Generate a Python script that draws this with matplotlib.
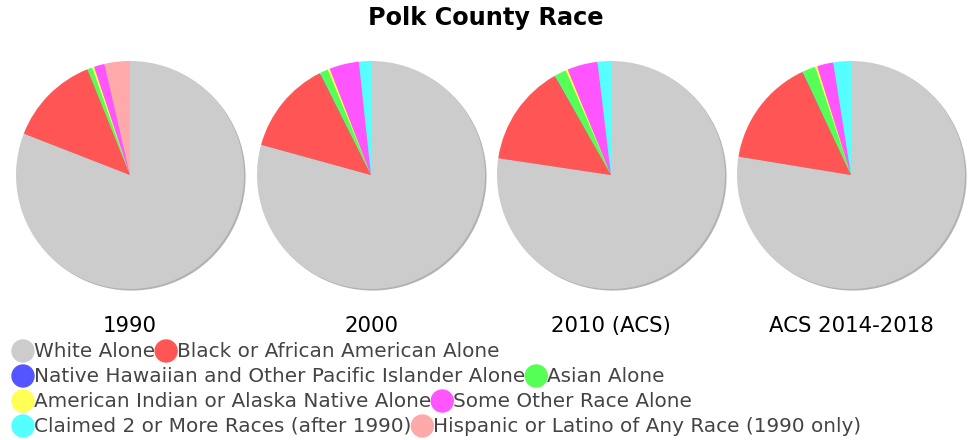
import matplotlib
matplotlib.use('Agg')
import matplotlib.pyplot as plt
from matplotlib.patches import Ellipse

# slice order: clockwise from 12 o'clock
races = ['White Alone', 'Black or African American Alone',
         'Native Hawaiian and Other Pacific Islander Alone', 'Asian Alone',
         'American Indian or Alaska Native Alone', 'Some Other Race Alone',
         'Claimed 2 or More Races (after 1990)',
         'Hispanic or Latino of Any Race (1990 only)']
colors = ['#cccccc', '#ff5555', '#5555ff', '#55ff55',
          '#ffff55', '#ff55ff', '#55ffff', '#ffaaaa']
years = ['1990', '2000', '2010 (ACS)', 'ACS 2014-2018']

share_1990 = [81.0, 13.0, 0.0, 0.7, 0.3, 1.5, 0.0, 3.6]
share_2000 = [79.4, 13.3, 0.05, 1.2, 0.3, 4.2, 1.7, 0.0]
share_2010 = [77.4, 14.4, 0.05, 1.7, 0.3, 4.3, 1.9, 0.0]
share_2018 = [77.7, 15.4, 0.05, 1.9, 0.3, 2.3, 2.5, 0.0]
shares = [share_1990, share_2000, share_2010, share_2018]

W, H = 972, 440
fig = plt.figure(figsize=(W / 100, H / 100), dpi=100)

centers_x = [130, 371, 611, 851]
cy = 175
r_px = 114
half = 120

for cx, vals, yr in zip(centers_x, shares, years):
    ax = fig.add_axes([(cx - half) / W, 1 - (cy + half) / H, 2 * half / W, 2 * half / H])
    ax.pie(vals, colors=colors, startangle=90, counterclock=False,
           shadow={'ox': 0.01, 'oy': -0.01, 'shade': 0.5},
           wedgeprops={'linewidth': 0})
    lim = half / r_px
    ax.set_xlim(-lim, lim)
    ax.set_ylim(-lim, lim)
    ax.set_aspect('equal')
    ax.axis('off')
    fig.text(cx / W, 1 - 326 / H, yr, ha='center', va='center', fontsize=15.3, color='black')

fig.text(486 / W, 1 - 18 / H, 'Polk County Race', ha='center', va='center',
         fontsize=17.3, fontweight='bold')

# flowing legend, two entries per row
rows_y = [351, 376, 401, 426]
renderer = fig.canvas.get_renderer()
for i, y in enumerate(rows_y):
    x = 12
    for j in (2 * i, 2 * i + 1):
        fig.patches.append(Ellipse(((x + 11) / W, 1 - y / H), 22 / W, 22 / H,
                                   transform=fig.transFigure, color=colors[j],
                                   figure=fig))
        x += 22
        t = fig.text(x / W, 1 - y / H, races[j], ha='left', va='center',
                     fontsize=14.4, color='#444444')
        bb = t.get_window_extent(renderer=renderer)
        x += bb.width

fig.savefig('out.png', dpi=100)
